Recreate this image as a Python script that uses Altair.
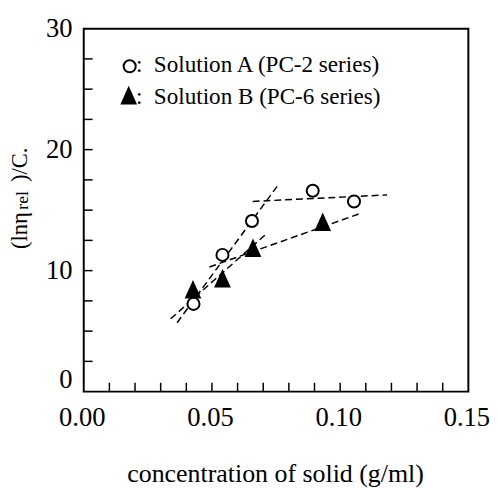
import altair as alt
import pandas as pd

# ---- data ----
a_x = [0.0428, 0.0541, 0.0656, 0.0893, 0.1054]
a_y = [7.25, 11.3, 14.1, 16.6, 15.72]
b_x = [0.0426, 0.0541, 0.0660, 0.0932]
b_y = [8.42, 9.33, 11.85, 14.0]

# dashed fit segments (start, end)
seg_names = ["A steep", "A flat", "B steep", "B flat"]
seg_x0 = [0.0364, 0.0659, 0.0339, 0.0490]
seg_y0 = [5.69, 15.72, 6.02, 10.30]
seg_x1 = [0.0755, 0.1183, 0.0710, 0.1074]
seg_y1 = [16.99, 16.26, 13.00, 14.69]

x_labels = [0.0, 0.05, 0.10, 0.15]
y_labels = [0, 10, 20, 30]
x_minor = [round(0.01 * i, 2) for i in range(1, 15)]
y_minor = [2.5 * i for i in range(1, 12)]

legend_texts = [":\u00a0 Solution A (PC-2 series)", ":\u00a0 Solution B (PC-6 series)"]
x_title = "concentration of solid (g/ml)"

FONT = "Liberation Serif"
W, H = 391, 369

seg_rows = []
for n, x0, y0, x1, y1 in zip(seg_names, seg_x0, seg_y0, seg_x1, seg_y1):
    seg_rows.append({"seg": n, "x": x0, "y": y0})
    seg_rows.append({"seg": n, "x": x1, "y": y1})
seg_df = pd.DataFrame(seg_rows)
a_df = pd.DataFrame({"x": a_x, "y": a_y})
b_df = pd.DataFrame({"x": b_x, "y": b_y})

xs = alt.Scale(domain=[0, 0.15], nice=False, zero=False)
ys = alt.Scale(domain=[0, 30], nice=False, zero=False)

x_axis = alt.Axis(values=x_labels, format=".2f", ticks=False, domain=False, grid=False,
                  labelFont=FONT, labelFontSize=27, labelColor="black", labelPadding=13,
                  labelOffset=-2, labelFlush=False, labelOverlap=False, labelBound=False, title=None)
y_axis = alt.Axis(values=y_labels, format="d", ticks=False, domain=False, grid=False,
                  labelFont=FONT, labelFontSize=27, labelColor="black", labelPadding=12,
                  labelOffset={"condition": {"test": "datum.value === 0", "value": -12}, "value": 0},
                  labelFlush=False, labelOverlap=False, labelBound=False, title=None)

lines = alt.Chart(seg_df).mark_line(color="black", strokeDash=[7, 4], strokeWidth=1.5).encode(
    x=alt.X("x:Q", scale=xs, axis=x_axis),
    y=alt.Y("y:Q", scale=ys, axis=y_axis),
    detail="seg:N",
)

tri_shape = "M0,-1L0.85,0.9L-0.85,0.9Z"
tris = alt.Chart(b_df).mark_point(shape=tri_shape, filled=True, color="black", size=400, opacity=1).encode(
    x=alt.X("x:Q", scale=xs), y=alt.Y("y:Q", scale=ys))
circs = alt.Chart(a_df).mark_point(shape="circle", filled=True, fill="white", stroke="black",
                                   strokeWidth=2, size=150, opacity=1).encode(
    x=alt.X("x:Q", scale=xs), y=alt.Y("y:Q", scale=ys))

xt = alt.Chart(pd.DataFrame({"v": x_minor})).mark_rule(color="black", strokeWidth=1.5).encode(
    x=alt.X("v:Q", scale=xs), y=alt.value(H), y2=alt.value(H - 9))
yt = alt.Chart(pd.DataFrame({"v": y_minor})).mark_rule(color="black", strokeWidth=1.5).encode(
    y=alt.Y("v:Q", scale=ys), x=alt.value(0), x2=alt.value(9))

# legend
leg_c = alt.Chart(pd.DataFrame({"k": [0]})).mark_point(shape="circle", filled=True, fill="white",
                                                       stroke="black", strokeWidth=2, size=150, opacity=1).encode(
    x=alt.value(46.7), y=alt.value(38.3))
leg_t = alt.Chart(pd.DataFrame({"k": [0]})).mark_point(shape=tri_shape, filled=True, color="black",
                                                       size=400, opacity=1).encode(
    x=alt.value(45.7), y=alt.value(68))
leg_txt1 = alt.Chart(pd.DataFrame({"t": [legend_texts[0]]})).mark_text(
    font=FONT, fontSize=23.5, align="left", baseline="alphabetic", color="black").encode(
    text="t:N", x=alt.value(53), y=alt.value(44.5))
leg_txt2 = alt.Chart(pd.DataFrame({"t": [legend_texts[1]]})).mark_text(
    font=FONT, fontSize=23.5, align="left", baseline="alphabetic", color="black").encode(
    text="t:N", x=alt.value(53), y=alt.value(76.7))

# axis titles
xtitle = alt.Chart(pd.DataFrame({"t": [x_title]})).mark_text(
    font=FONT, fontSize=26.3, align="center", baseline="alphabetic", color="black").encode(
    text="t:N", x=alt.value(195), y=alt.value(461))
YT_X, YT_Y = -57.5, 224
yt1 = alt.Chart(pd.DataFrame({"t": ["(lnη"]})).mark_text(
    font=FONT, fontSize=23, align="left", baseline="alphabetic", angle=270, color="black").encode(
    text="t:N", x=alt.value(YT_X), y=alt.value(YT_Y))
yt2 = alt.Chart(pd.DataFrame({"t": ["rel"]})).mark_text(
    font=FONT, fontSize=18, align="left", baseline="alphabetic", angle=270, color="black",
    dx=40, dy=1).encode(
    text="t:N", x=alt.value(YT_X), y=alt.value(YT_Y))
yt3 = alt.Chart(pd.DataFrame({"t": [")/C."]})).mark_text(
    font=FONT, fontSize=23, align="left", baseline="alphabetic", angle=270, color="black",
    dx=68).encode(
    text="t:N", x=alt.value(YT_X), y=alt.value(YT_Y))

chart = alt.layer(lines, xt, yt, tris, circs, leg_c, leg_t, leg_txt1, leg_txt2,
                  xtitle, yt1, yt2, yt3).properties(
    width=W, height=H,
    autosize=alt.AutoSizeParams(type="none"),
    padding={"left": 77, "top": 17, "right": 22, "bottom": 95},
    background="white",
).configure_view(stroke="black", strokeWidth=2)

chart.save("out.html", embed_options={"renderer": "svg", "actions": False})
